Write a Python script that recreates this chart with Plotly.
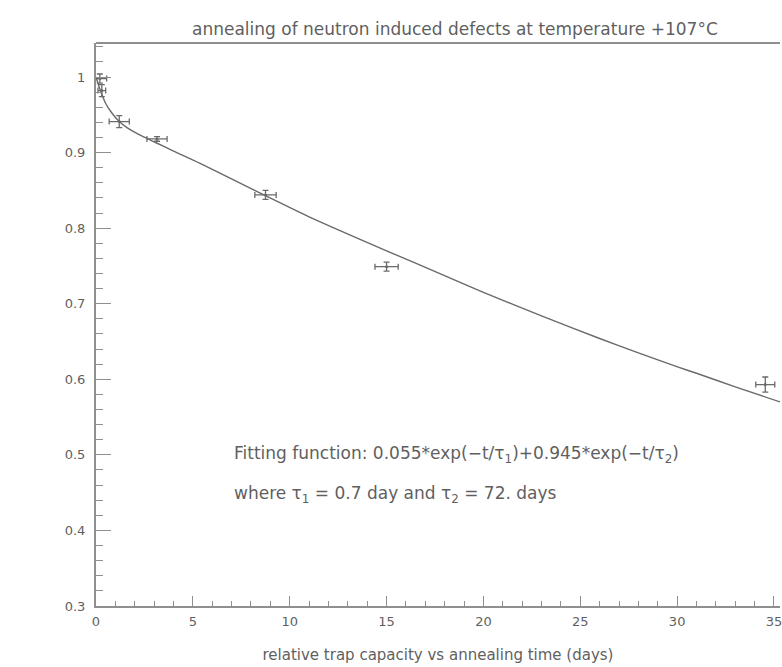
import plotly.graph_objects as go

# Measured relative trap capacity (with uncertainties)
t_days = [0.2, 0.3, 1.2, 3.15, 8.75, 15.0, 34.55]
t_err = [0.35, 0.2, 0.52, 0.52, 0.55, 0.6, 0.49]
capacity = [0.998, 0.982, 0.941, 0.918, 0.844, 0.749, 0.593]
capacity_err = [0.006, 0.008, 0.008, 0.003, 0.006, 0.006, 0.01]

# Fitted curve samples
fit_t = [0, 0.2, 0.5, 0.8, 1.2, 1.6, 2.2, 3.1, 4.0, 5.35, 8.27, 11, 15,
         18.2, 20, 23, 26, 28, 30.06, 31, 33, 35.31]
fit_y = [1.0, 0.984, 0.965, 0.953, 0.941, 0.933, 0.924, 0.913, 0.902, 0.886,
         0.849, 0.815, 0.770, 0.735, 0.715, 0.684, 0.654, 0.635, 0.616, 0.608,
         0.590, 0.570]

x_ticks = [0, 5, 10, 15, 20, 25, 30, 35]
y_ticks = [0.3, 0.4, 0.5, 0.6, 0.7, 0.8, 0.9, 1.0]
y_tick_text = ["0.3", "0.4", "0.5", "0.6", "0.7", "0.8", "0.9", "1"]

ink = "#6a6a6a"
text_ink = "#5f5f5f"
axis_ink = "#8f8f8f"
font_family = "DejaVu Sans, sans-serif"

fig = go.Figure()

fig.add_trace(go.Scatter(
    x=fit_t, y=fit_y, mode="lines",
    line=dict(color=ink, width=1.4, shape="spline", smoothing=0.6),
    hoverinfo="skip", showlegend=False,
))

fig.add_trace(go.Scatter(
    x=t_days, y=capacity, mode="markers",
    marker=dict(color=ink, size=3),
    error_x=dict(type="data", array=t_err, color=ink, thickness=1.3, width=3),
    error_y=dict(type="data", array=capacity_err, color=ink, thickness=1.3, width=3),
    showlegend=False,
))

axis_common = dict(
    showgrid=False, zeroline=False, showline=True,
    linecolor=axis_ink, linewidth=2,
    ticks="inside", tickcolor=axis_ink, tickwidth=1.3,
    tickfont=dict(family=font_family, size=13, color=text_ink),
)

fig.update_xaxes(
    range=[0, 35.31], tickmode="array", tickvals=x_ticks,
    ticklen=10, ticklabeloverflow="allow", ticklabelstandoff=2,
    minor=dict(dtick=1, ticks="inside", ticklen=5, tickcolor=axis_ink),
    title=dict(text="relative trap capacity vs annealing time (days)",
               font=dict(family=font_family, size=15, color=text_ink),
               standoff=22),
    **axis_common,
)
fig.update_yaxes(
    range=[0.3, 1.045], tickmode="array", tickvals=y_ticks,
    ticktext=y_tick_text, ticklen=15, ticklabelstandoff=6,
    minor=dict(dtick=0.02, ticks="inside", ticklen=7, tickcolor=axis_ink),
    **axis_common,
)

# Frame line along the top of the plotting area
fig.add_shape(type="line", xref="paper", yref="paper", x0=0, x1=1, y0=1, y1=1,
              line=dict(color=axis_ink, width=2))

fig.add_annotation(
    text="annealing of neutron induced defects at temperature +107°C",
    xref="paper", yref="paper", x=0.525, y=1.0, yshift=26,
    showarrow=False, font=dict(family=font_family, size=17, color=text_ink),
)
fig.add_annotation(
    text="Fitting function: 0.055*exp(−t/τ<sub>1</sub>)+0.945*exp(−t/τ<sub>2</sub>)",
    x=7.0, y=0.5, xanchor="left", showarrow=False,
    font=dict(family=font_family, size=17, color=text_ink),
)
fig.add_annotation(
    text="where τ<sub>1</sub> = 0.7 day and τ<sub>2</sub> = 72. days",
    x=7.0, y=0.447, xanchor="left", showarrow=False,
    font=dict(family=font_family, size=17, color=text_ink),
)

fig.update_layout(
    width=782, height=667,
    margin=dict(l=96, r=0, t=43, b=61),
    paper_bgcolor="white", plot_bgcolor="white",
)

fig.write_html("out.html")
